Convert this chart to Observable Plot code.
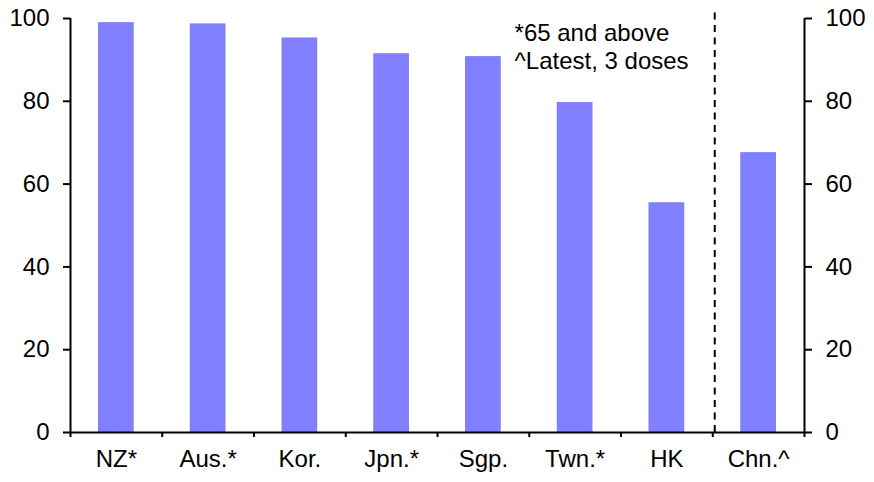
<!DOCTYPE html>
<html>
<head>
<meta charset="utf-8">
<script src="https://cdn.jsdelivr.net/npm/d3@7"></script>
<script src="https://cdn.jsdelivr.net/npm/@observablehq/plot@0.6"></script>
<style>
  html, body { margin: 0; padding: 0; background: #fff; }
  #chart svg { display: block; }
</style>
</head>
<body>
<div id="chart"></div>
<script>
const categories = ["NZ*", "Aus.*", "Kor.", "Jpn.*", "Sgp.", "Twn.*", "HK", "Chn.^"];
const values = [99.0, 98.7, 95.3, 91.5, 90.8, 79.7, 55.5, 67.6];
const yTicks = [0, 20, 40, 60, 80, 100];
const noteLines = ["*65 and above", "^Latest, 3 doses"];
const separatorIndex = 7;

const data = categories.map((c, i) => ({cat: c, i, value: values[i]}));
const boundaries = d3.range(0, categories.length + 1);

const font = "Liberation Sans, Arial, Helvetica, sans-serif";

const chart = Plot.plot({
  width: 874,
  height: 482,
  marginLeft: 70,
  marginRight: 70,
  marginTop: 18,
  marginBottom: 50,
  style: {fontFamily: font, fontSize: "24px", color: "black", background: "white"},
  x: {type: "linear", domain: [0, categories.length], axis: null},
  y: {domain: [0, 100], axis: null},
  marks: [
    Plot.rectY(data, {x1: d => d.i, x2: d => d.i + 1, y1: 0, y2: "value", fill: "#8080FF", insetLeft: 28, insetRight: 28}),
    Plot.ruleX([separatorIndex], {y1: 0, y2: 101.5, stroke: "black", strokeWidth: 2, strokeDasharray: "7,5.5", dx: 2}),
    Plot.ruleX([0, categories.length], {y1: 0, y2: 100, stroke: "black", strokeWidth: 2}),
    Plot.ruleY([0], {stroke: "black", strokeWidth: 2}),
    Plot.axisY({anchor: "left", ticks: yTicks, tickSize: 7, tickPadding: 14, strokeWidth: 2, fontSize: 24, label: null}),
    Plot.axisY({anchor: "right", ticks: yTicks, tickSize: 7, tickPadding: 14, strokeWidth: 2, fontSize: 24, label: null}),
    Plot.axisX({ticks: boundaries, tickSize: 5, strokeWidth: 2, tickFormat: () => "", label: null}),
    Plot.text(data, {x: d => d.i + 0.5, y: 0, text: "cat", dy: 27, lineAnchor: "middle", fontSize: 24, fill: "black"}),
    Plot.text([noteLines.join("\n")], {x: 4.84, y: 99.2, text: d => d, textAnchor: "start", lineAnchor: "top", lineHeight: 1.15, fontSize: 24, fill: "black"})
  ]
});
document.getElementById("chart").appendChild(chart);
</script>
</body>
</html>
